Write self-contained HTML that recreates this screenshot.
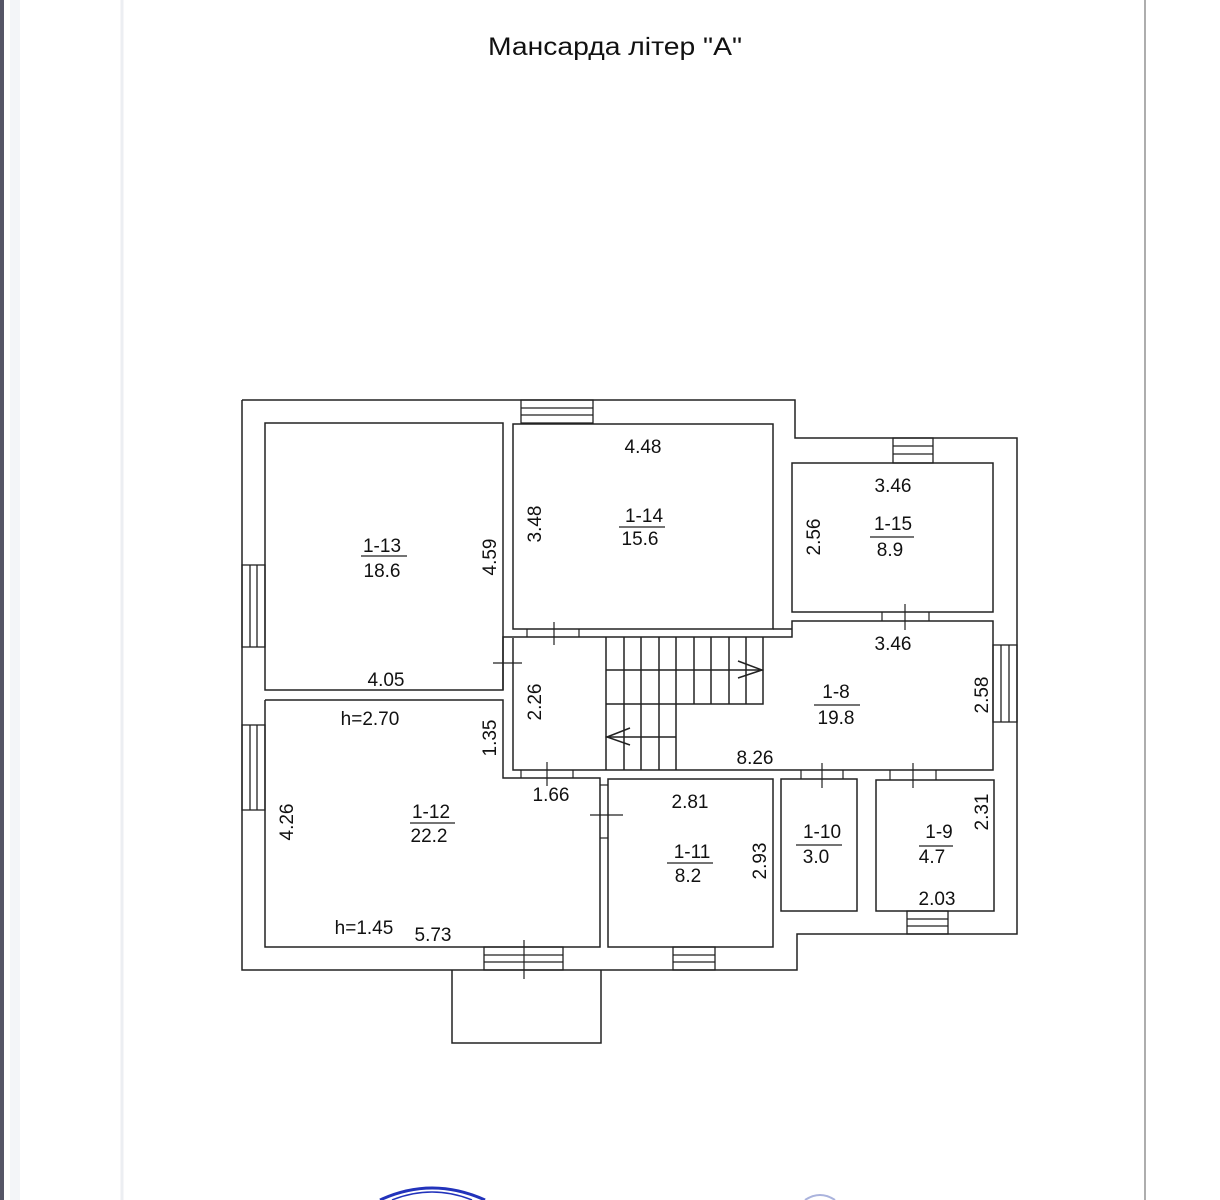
<!DOCTYPE html>
<html><head><meta charset="utf-8"><style>
html,body{margin:0;padding:0;background:#fff;}
svg{display:block;}
text{font-family:"Liberation Sans",sans-serif;fill:#111;}
</style></head><body>
<svg width="1220" height="1200" viewBox="0 0 1220 1200" xmlns="http://www.w3.org/2000/svg">
<rect x="0" y="0" width="1220" height="1200" fill="#fff"/>
<rect x="0" y="0" width="4" height="1200" fill="#556"/>
<rect x="10" y="0" width="10" height="1200" fill="#f3f5f8"/>
<line x1="122" y1="0" x2="122" y2="1200" stroke="#eceef2" stroke-width="3"/>
<line x1="1145" y1="0" x2="1145" y2="1200" stroke="#777" stroke-width="1.2"/>
<text x="615" y="55" font-size="25" text-anchor="middle" textLength="254" lengthAdjust="spacingAndGlyphs">Мансарда літер "А"</text>
<g fill="none" stroke="#222" stroke-width="1.5">
<polyline points="242,400 795,400 795,438 1017,438 1017,934 797,934 797,970 242,970 242,400"/>
<polyline points="452,970 452,1043 601,1043 601,970"/>
<rect x="265" y="423" width="238" height="267"/>
<rect x="513" y="424" width="260" height="205"/>
<rect x="792" y="463" width="201" height="149"/>
<polyline points="265,700 503,700 503,778 600,778 600,947 265,947 265,700"/>
<rect x="608" y="779" width="165" height="168"/>
<rect x="781" y="779" width="76" height="132"/>
<rect x="876" y="780" width="118" height="131"/>
<polyline points="503,690 503,637 792,637 792,621 993,621 993,770 513,770 513,638"/>
<line x1="773" y1="629" x2="792" y2="629"/>
<polyline points="606,770 606,637"/>
<polyline points="763,637 763,704 606,704"/>
<line x1="606" y1="670" x2="763" y2="670"/>
<line x1="676" y1="637" x2="676" y2="770"/>
<line x1="606" y1="737" x2="676" y2="737"/>
<line x1="624" y1="637" x2="624" y2="770"/>
<line x1="641" y1="637" x2="641" y2="770"/>
<line x1="659" y1="637" x2="659" y2="770"/>
<line x1="694" y1="637" x2="694" y2="704"/>
<line x1="711" y1="637" x2="711" y2="704"/>
<line x1="729" y1="637" x2="729" y2="704"/>
<line x1="746" y1="637" x2="746" y2="704"/>
<polyline points="738,661 762,670 738,678"/>
<polyline points="630,728 607,737 630,745"/>
<g stroke-width="1.3">
<rect x="521" y="400" width="72" height="23"/><line x1="521" y1="408" x2="593" y2="408"/><line x1="521" y1="415" x2="593" y2="415"/>
<rect x="893" y="438" width="40" height="25"/><line x1="893" y1="446" x2="933" y2="446"/><line x1="893" y1="454" x2="933" y2="454"/>
<rect x="242" y="565" width="23" height="82"/><line x1="250" y1="565" x2="250" y2="647"/><line x1="257" y1="565" x2="257" y2="647"/>
<rect x="242" y="725" width="23" height="85"/><line x1="250" y1="725" x2="250" y2="810"/><line x1="257" y1="725" x2="257" y2="810"/>
<rect x="993" y="645" width="24" height="77"/><line x1="1001" y1="645" x2="1001" y2="722"/><line x1="1009" y1="645" x2="1009" y2="722"/>
<rect x="484" y="947" width="79" height="23"/><line x1="484" y1="955" x2="563" y2="955"/><line x1="484" y1="962" x2="563" y2="962"/>
<rect x="673" y="947" width="42" height="23"/><line x1="673" y1="955" x2="715" y2="955"/><line x1="673" y1="962" x2="715" y2="962"/>
<rect x="907" y="911" width="41" height="23"/><line x1="907" y1="919" x2="948" y2="919"/><line x1="907" y1="926" x2="948" y2="926"/>
</g>
<g stroke-width="1.2">
<line x1="527" y1="629" x2="527" y2="637"/><line x1="579" y1="629" x2="579" y2="637"/><line x1="554" y1="622" x2="554" y2="645"/>
<line x1="493" y1="663" x2="522" y2="663"/>
<line x1="882" y1="612" x2="882" y2="621"/><line x1="929" y1="612" x2="929" y2="621"/><line x1="905" y1="604" x2="905" y2="630"/>
<line x1="521" y1="770" x2="521" y2="778"/><line x1="573" y1="770" x2="573" y2="778"/><line x1="547" y1="762" x2="547" y2="786"/>
<line x1="600" y1="785" x2="608" y2="785"/><line x1="600" y1="838" x2="608" y2="838"/><line x1="590" y1="815" x2="623" y2="815"/>
<line x1="801" y1="770" x2="801" y2="779"/><line x1="843" y1="770" x2="843" y2="779"/><line x1="822" y1="763" x2="822" y2="788"/>
<line x1="890" y1="770" x2="890" y2="780"/><line x1="936" y1="770" x2="936" y2="780"/><line x1="913" y1="763" x2="913" y2="788"/>
<line x1="524" y1="940" x2="524" y2="979"/>
</g>
<g stroke-width="1.2">
<line x1="361" y1="556" x2="407" y2="556"/>
<line x1="619" y1="527" x2="665" y2="527"/>
<line x1="870" y1="537" x2="914" y2="537"/>
<line x1="814" y1="705" x2="860" y2="705"/>
<line x1="410" y1="823" x2="455" y2="823"/>
<line x1="667" y1="863" x2="713" y2="863"/>
<line x1="796" y1="845" x2="842" y2="845"/>
<line x1="919" y1="846" x2="953" y2="846"/>
</g>
</g>
<g font-size="19" text-anchor="middle">
<text x="382" y="552">1-13</text><text x="382" y="577">18.6</text>
<text x="644" y="522">1-14</text><text x="640" y="545">15.6</text>
<text x="893" y="530">1-15</text><text x="890" y="556">8.9</text>
<text x="836" y="698">1-8</text><text x="836" y="724">19.8</text>
<text x="431" y="818">1-12</text><text x="429" y="842">22.2</text>
<text x="692" y="858">1-11</text><text x="688" y="882">8.2</text>
<text x="822" y="838">1-10</text><text x="816" y="863">3.0</text>
<text x="939" y="838">1-9</text><text x="932" y="863">4.7</text>
<text x="643" y="453">4.48</text>
<text x="893" y="492">3.46</text>
<text x="893" y="650">3.46</text>
<text x="386" y="686">4.05</text>
<text x="370" y="725">h=2.70</text>
<text x="551" y="801">1.66</text>
<text x="690" y="808">2.81</text>
<text x="755" y="764">8.26</text>
<text x="364" y="934">h=1.45</text>
<text x="433" y="941">5.73</text>
<text x="937" y="905">2.03</text>
<text transform="translate(496,557) rotate(-90)">4.59</text>
<text transform="translate(541,524) rotate(-90)">3.48</text>
<text transform="translate(820,537) rotate(-90)">2.56</text>
<text transform="translate(541,702) rotate(-90)">2.26</text>
<text transform="translate(496,738) rotate(-90)">1.35</text>
<text transform="translate(293,822) rotate(-90)">4.26</text>
<text transform="translate(766,861) rotate(-90)">2.93</text>
<text transform="translate(988,695) rotate(-90)">2.58</text>
<text transform="translate(988,812) rotate(-90)">2.31</text>
</g>
<path d="M380,1200 Q432,1176 485,1200" fill="none" stroke="#2233bb" stroke-width="3"/>
<path d="M392,1200 Q432,1184 472,1200" fill="none" stroke="#2233bb" stroke-width="1.5"/>
<path d="M805,1200 Q820,1190 835,1200" fill="none" stroke="#aab3dd" stroke-width="2"/>
</svg>
</body></html>
